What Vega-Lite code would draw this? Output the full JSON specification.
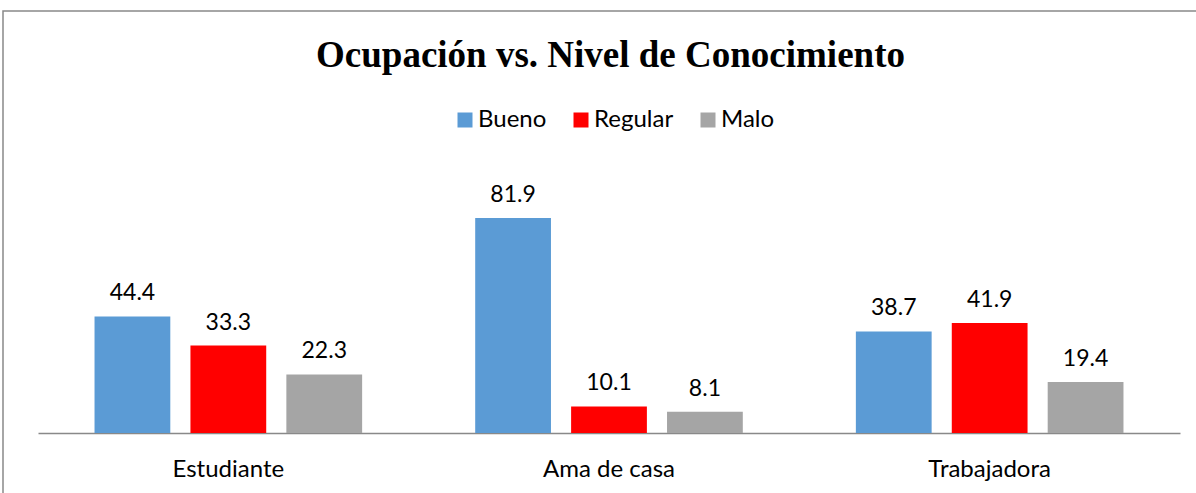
{
  "$schema": "https://vega.github.io/schema/vega-lite/v6.json",
  "autosize": "none",
  "padding": {"left": 3, "top": 11, "right": 0, "bottom": 0},
  "width": 1200,
  "height": 500,
  "title": {
    "text": "Ocupación vs. Nivel de Conocimiento",
    "font": "Liberation Serif",
    "fontSize": 37,
    "fontWeight": "bold",
    "color": "#000000",
    "anchor": "middle",
    "frame": "group",
    "baseline": "alphabetic",
    "offset": -93,
    "dx": 7.5
  },
  "data": {
    "values": [
      {"ocupacion": "Estudiante", "nivel": "Bueno", "valor": 44.4},
      {"ocupacion": "Estudiante", "nivel": "Regular", "valor": 33.3},
      {"ocupacion": "Estudiante", "nivel": "Malo", "valor": 22.3},
      {"ocupacion": "Ama de casa", "nivel": "Bueno", "valor": 81.9},
      {"ocupacion": "Ama de casa", "nivel": "Regular", "valor": 10.1},
      {"ocupacion": "Ama de casa", "nivel": "Malo", "valor": 8.1},
      {"ocupacion": "Trabajadora", "nivel": "Bueno", "valor": 38.7},
      {"ocupacion": "Trabajadora", "nivel": "Regular", "valor": 41.9},
      {"ocupacion": "Trabajadora", "nivel": "Malo", "valor": 19.4}
    ]
  },
  "encoding": {
    "x": {
      "field": "ocupacion",
      "type": "nominal",
      "sort": ["Estudiante", "Ama de casa", "Trabajadora"],
      "scale": {"range": [35, 1177], "paddingInner": 0.297, "paddingOuter": 0.1485},
      "axis": {
        "title": null,
        "labelAngle": 0,
        "ticks": false,
        "offset": -78,
        "domainColor": "#898989",
        "domainWidth": 1.5,
        "labelFont": "Lato",
        "labelFontSize": 24,
        "labelColor": "#000000",
        "labelBaseline": "alphabetic",
        "labelPadding": 43
      }
    },
    "xOffset": {
      "field": "nivel",
      "type": "nominal",
      "sort": ["Bueno", "Regular", "Malo"],
      "scale": {"paddingInner": 0.21, "paddingOuter": 0}
    },
    "y": {
      "field": "valor",
      "type": "quantitative",
      "scale": {"domain": [0, 90], "range": [422, 185.75], "nice": false},
      "axis": null
    }
  },
  "layer": [
    {
      "mark": {"type": "bar"},
      "encoding": {
        "color": {
          "field": "nivel",
          "type": "nominal",
          "sort": ["Bueno", "Regular", "Malo"],
          "scale": {"domain": ["Bueno", "Regular", "Malo"], "range": ["#5B9BD5", "#FF0000", "#A5A5A5"]},
          "legend": {
            "title": null,
            "orient": "none",
            "direction": "horizontal",
            "legendX": 450,
            "legendY": 97,
            "symbolType": "square",
            "symbolSize": 225,
            "symbolStrokeWidth": 0,
            "labelFont": "Lato",
            "labelFontSize": 24,
            "labelColor": "#000000",
            "labelOffset": 1,
            "columnPadding": 22
          }
        }
      }
    },
    {
      "mark": {"type": "text", "baseline": "alphabetic", "dy": -16, "font": "Lato", "fontSize": 23, "color": "#000000"},
      "encoding": {
        "text": {"field": "valor", "type": "quantitative", "format": ".1f"}
      }
    }
  ],
  "config": {
    "view": {"stroke": "#898989", "strokeWidth": 1.5},
    "background": "#ffffff"
  }
}
